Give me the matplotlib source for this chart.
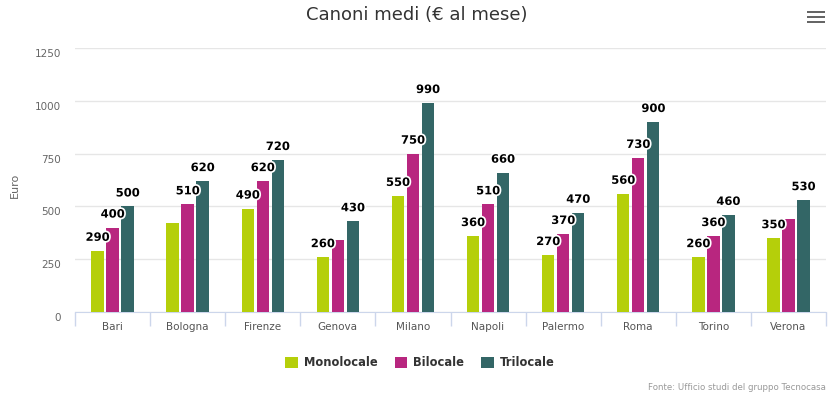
import matplotlib
matplotlib.use("Agg")
import matplotlib.pyplot as plt
import matplotlib.patheffects as pe
from matplotlib.patches import Rectangle
from matplotlib.transforms import offset_copy
import numpy as np

cities = ["Bari", "Bologna", "Firenze", "Genova", "Milano", "Napoli", "Palermo", "Roma", "Torino", "Verona"]
monolocale = [290, 420, 490, 260, 550, 360, 270, 560, 260, 350]
bilocale = [400, 510, 620, 340, 750, 510, 370, 730, 360, 440]
trilocale = [500, 620, 720, 430, 990, 660, 470, 900, 460, 530]
# labels hidden in the reference due to overlap
hidden = {("Monolocale", 1), ("Bilocale", 3), ("Bilocale", 9)}

series = [("Monolocale", monolocale, "#b5cf0a"),
          ("Bilocale", bilocale, "#b8267f"),
          ("Trilocale", trilocale, "#336666")]

W, H = 834, 395
fig = plt.figure(figsize=(W / 100, H / 100), dpi=100)
ax = fig.add_axes([75 / W, 1 - 312 / H, (826 - 75) / W, (312 - 48) / H])

x = np.arange(len(cities))
bw = 0.165
offs = [-0.2, 0, 0.2]
glow = [pe.withStroke(linewidth=2.5, foreground="white")]
for (name, vals, col), off in zip(series, offs):
    ax.bar(x + off, vals, width=bw, color=col, label=name, zorder=3)
    for i, v in enumerate(vals):
        if (name, i) in hidden:
            continue
        ax.annotate(str(v), (x[i] + off, v), xytext=(0, 5), textcoords="offset points",
                    ha="center", va="bottom", fontsize=8.3, fontweight="bold",
                    color="black", path_effects=glow, zorder=5)

ax.set_xlim(-0.5, len(cities) - 0.5)
ax.set_ylim(0, 1250)
ax.set_yticks([0, 250, 500, 750, 1000, 1250])
ax.yaxis.grid(True, color="#e6e6e6", linewidth=1, zorder=0)
ax.set_axisbelow(True)
for s in ["top", "right", "left"]:
    ax.spines[s].set_visible(False)
ax.spines["bottom"].set_color("#ccd6eb")
ax.tick_params(axis="y", length=0, labelsize=7.5, labelcolor="#666666", pad=10)
for lab in ax.get_yticklabels():
    lab.set_transform(offset_copy(lab.get_transform(), fig=fig, x=0, y=-5, units="dots"))
ax.set_xticks(x)
ax.set_xticklabels(cities, fontsize=7.5, color="#555555")
ax.tick_params(axis="x", length=0, pad=7)
ax.set_xticks(np.arange(len(cities) + 1) - 0.5, minor=True)
ax.tick_params(axis="x", which="minor", length=10, color="#ccd6eb", width=1)
ax.set_ylabel("Euro", fontsize=8, color="#666666")
ax.yaxis.set_label_coords((20 - 75) / (826 - 75), (312 - 185) / (312 - 48))

fig.text(0.5, 1 - 15 / H, "Canoni medi (€ al mese)", ha="center", va="center",
         fontsize=13, color="#333333", family=["Liberation Sans Narrow", "DejaVu Sans"])

# hamburger menu icon
for dy in (12, 17, 22):
    fig.patches.append(Rectangle((807 / W, 1 - (dy + 1) / H), 18 / W, 2 / H,
                                 transform=fig.transFigure, color="#666666", linewidth=0))

leg = fig.legend(loc="center", bbox_to_anchor=(420 / W, 1 - 363 / H), ncol=3, frameon=False,
                 prop={"weight": "bold", "size": 8.3}, handlelength=1.1, handleheight=1.1,
                 columnspacing=1.5, handletextpad=0.5)
for t in leg.get_texts():
    t.set_color("#333333")

fig.text(826 / W, 1 - 387 / H, "Fonte: Ufficio studi del gruppo Tecnocasa", ha="right",
         va="center", fontsize=6.2, color="#999999")

fig.savefig("out.png", dpi=100)
